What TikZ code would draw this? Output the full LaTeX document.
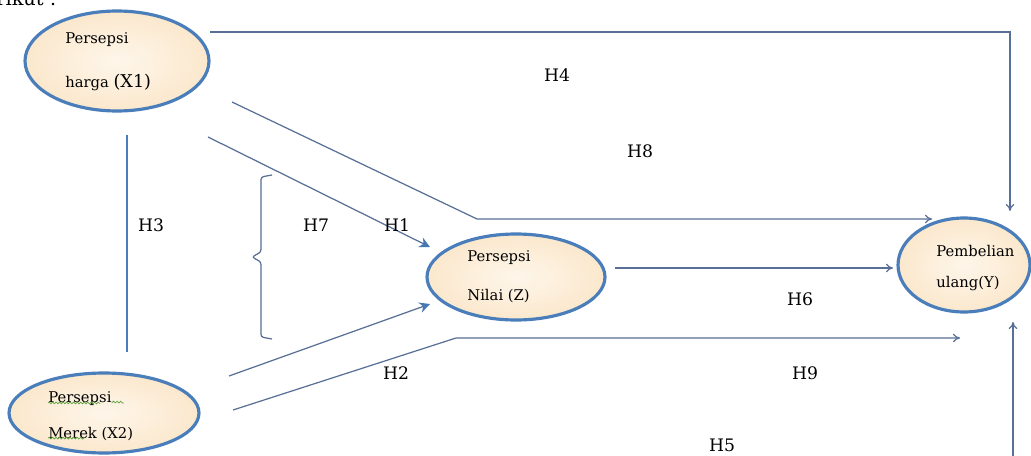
\documentclass[tikz,border=0pt]{standalone}
\usepackage{fontspec}
\setmainfont{DejaVu Serif}
\usetikzlibrary{shapes.geometric,arrows.meta,decorations.pathmorphing}
\definecolor{bubline}{RGB}{74,126,187}
\definecolor{bubfill}{RGB}{251,232,205}
\definecolor{bubin}{RGB}{254,246,234}
\definecolor{conncol}{RGB}{88,112,150}
\definecolor{headcol}{RGB}{70,120,180}
\definecolor{wavy}{RGB}{90,160,60}
\tikzset{
  bub/.style={ellipse, draw=bubline, line width=1.8pt, inner color=bubin, outer color=bubfill},
  btext/.style={anchor=base west, font=\fontsize{8.4}{9}\selectfont, inner sep=0pt},
  hlab/.style={anchor=base, font=\fontsize{9.8}{11}\selectfont, inner sep=0pt},
  conn/.style={draw=conncol, line width=0.7pt},
  openhead/.style={conn, -{To[length=4pt,width=5pt]}},
  fillhead/.style={conn, -{Stealth[length=6pt,width=6pt,color=headcol]}},
  squig/.style={draw=wavy, line width=0.4pt, decorate, decoration={snake, amplitude=0.5pt, segment length=2pt}}
}
\begin{document}
\begin{tikzpicture}[x=0.02cm,y=-0.02cm]
\useasboundingbox (0,0) rectangle (1031,456);
\fill[white] (0,0) rectangle (1031,456);
% partial heading
\node[anchor=base west, font=\fontsize{11}{12}\selectfont, inner sep=0pt] (head) at (-4,6) {rikut :};
% ellipses
\node[bub, minimum width=3.68cm, minimum height=2.0cm] (x1) at (117,61) {};
\node[bub, minimum width=3.8cm, minimum height=1.6cm] (x2) at (104,413) {};
\node[bub, minimum width=3.56cm, minimum height=1.72cm] (z) at (516,277) {};
\node[bub, minimum width=2.64cm, minimum height=1.88cm] (y) at (964,265) {};
% ellipse texts
\node[btext] (x1a) at (65,44) {Persepsi};
\node[btext] (x1b) at (65,88) {harga \fontsize{10}{11}\selectfont(X1)};
\node[btext] (x2a) at (48,402) {Persepsi};
\node[btext] (x2b) at (48,438) {Merek (X2)};
\draw[squig] (x2a.south west) ++(0,-2.5) -- ++(52,0) (x2a.south east) ++(0,-2.5) -- ++(12,0);
\draw[squig] (x2b.south west) ++(0,-2.5) -- ++(36,0);
\node[btext] (za) at (467,261) {Persepsi};
\node[btext] (zb) at (467,300) {Nilai (Z)};
\node[btext] (ya) at (936,256) {Pembelian};
\node[btext] (yb) at (936,287) {ulang(Y)};
% coordinates
\coordinate (h4s) at (210,32);
\coordinate (h4c) at (1010,32);
\coordinate (h4e) at (1010,211);
\coordinate (h8s) at (232,102);
\coordinate (h8c) at (477,219);
\coordinate (h8e) at (932,219);
\coordinate (h1s) at (208,137);
\coordinate (h1e) at (430,247);
\coordinate (h3s) at (127,135);
\coordinate (h3e) at (127,352);
\coordinate (h6s) at (615,268);
\coordinate (h6e) at (893,268);
\coordinate (h2s) at (229,376);
\coordinate (h2e) at (430,304);
\coordinate (h9s) at (233,410);
\coordinate (h9c) at (456,338);
\coordinate (h9e) at (960,338);
\coordinate (h5s) at (1013,458);
\coordinate (h5e) at (1013,322);
% connectors
\draw[openhead] (h4s) -- (h4c) -- (h4e);
\draw[openhead] (h8s) -- (h8c) -- (h8e);
\draw[fillhead] (h1s) -- (h1e);
\draw[conn, draw=bubline] (h3s) -- (h3e);
\draw[openhead] (h6s) -- (h6e);
\draw[fillhead] (h2s) -- (h2e);
\draw[openhead] (h9s) -- (h9c) -- (h9e);
\draw[openhead] (h5s) -- (h5e);
% brace
\draw[conn, rounded corners=1.5pt] (272,175) -- (261,177) -- (261,252) -- (252,257) -- (261,262) -- (261,337) -- (272,339);
% labels
\node[hlab] (lh4) at (557,82) {H4};
\node[hlab] (lh8) at (640,157) {H8};
\node[hlab] (lh3) at (151,231) {H3};
\node[hlab] (lh7) at (316,231) {H7};
\node[hlab] (lh1) at (397,231) {H1};
\node[hlab] (lh6) at (800,305) {H6};
\node[hlab] (lh2) at (396,379) {H2};
\node[hlab] (lh9) at (805,379) {H9};
\node[hlab] (lh5) at (722,451) {H5};
\end{tikzpicture}
\end{document}
